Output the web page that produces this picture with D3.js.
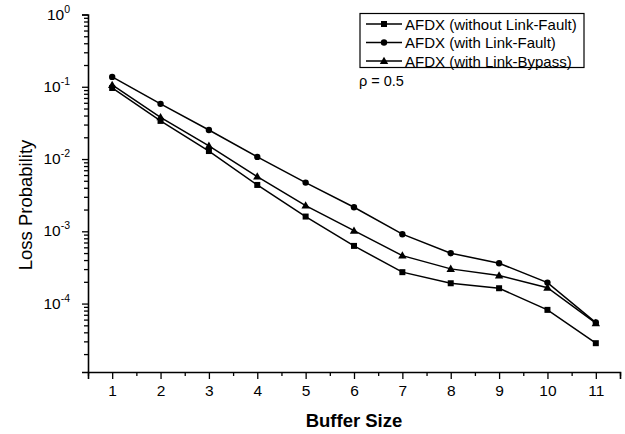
<!DOCTYPE html>
<html>
<head>
<meta charset="utf-8">
<script src="https://cdn.jsdelivr.net/npm/d3@7"></script>
<style>
  html, body { margin: 0; padding: 0; background: #fff; }
  svg { display: block; }
  text { font-family: Arial, "Liberation Sans", sans-serif; fill: #000; }
</style>
</head>
<body>
<svg id="chart" width="625" height="434"></svg>
<script>
// Buffer sizes on the x axis
const bufferSizes = [1, 2, 3, 4, 5, 6, 7, 8, 9, 10, 11];

// Loss probability for each configuration
const withoutFault = [0.0962, 0.0337, 0.0129, 0.00438, 0.0016, 0.000628, 0.000272, 0.000191, 0.000163, 0.0000818, 0.0000283];
const withFault    = [0.137, 0.058, 0.0252, 0.0107, 0.00472, 0.00215, 0.000912, 0.000498, 0.000362, 0.000195, 0.0000546];
const withBypass   = [0.106, 0.0378, 0.0152, 0.00571, 0.00227, 0.00102, 0.000461, 0.000302, 0.000244, 0.000166, 0.0000536];

const seriesNames = ["AFDX (without Link-Fault)", "AFDX (with Link-Fault)", "AFDX (with Link-Bypass)"];
const seriesMarkers = ["square", "circle", "triangle"];
const yTickExponents = [0, -1, -2, -3, -4];
const xTickLabels = ["1", "2", "3", "4", "5", "6", "7", "8", "9", "10", "11"];

const series = [withoutFault, withFault, withBypass].map((vals, i) => ({
  name: seriesNames[i],
  marker: seriesMarkers[i],
  points: vals.map((v, j) => ({ x: bufferSizes[j], y: v }))
}));

const svg = d3.select("#chart");

const x = d3.scaleLinear().domain([0.5, 11.5]).range([88, 620]);
const y = d3.scaleLog().domain([1.13e-5, 1]).range([372, 14.5]);

// Marker drawing helper
function drawMarker(sel, kind) {
  if (kind === "square") {
    sel.append("rect").attr("x", -3).attr("y", -3).attr("width", 6).attr("height", 6).attr("fill", "#000");
  } else if (kind === "circle") {
    sel.append("circle").attr("r", 3.2).attr("fill", "#000");
  } else {
    sel.append("path").attr("d", "M0,-4.3L4.2,3L-4.2,3Z").attr("fill", "#000");
  }
}

// Y axis: majors at decades, minors at 2..9 of each decade
const yMajors = yTickExponents.map(e => Math.pow(10, e));
const yMinors = [];
for (let e = -5; e < 0; e++) {
  for (let m = 2; m <= 9; m++) {
    const v = m * Math.pow(10, e);
    if (v >= y.domain()[0] && v <= 1) yMinors.push(v);
  }
}

svg.append("g").attr("transform", "translate(88,0)")
  .call(d3.axisLeft(y).tickValues(yMajors).tickSize(6).tickFormat(""));
svg.append("g").attr("transform", "translate(88,0)")
  .call(d3.axisLeft(y).tickValues(yMinors).tickSize(4).tickFormat(""))
  .select(".domain").remove();

// Decade labels with superscript exponents
const yLab = svg.append("g");
yTickExponents.forEach(e => {
  const t = yLab.append("text")
    .attr("x", 70).attr("y", y(Math.pow(10, e)) + 5)
    .attr("text-anchor", "end")
    .style("font-size", "15.5px");
  t.append("tspan").text("10");
  t.append("tspan").attr("dy", -7).style("font-size", "10.5px").text(String(e));
});

// X axis: majors at integers, minors at half steps
const xMinors = d3.range(0.5, 11.6, 1);
svg.append("g").attr("transform", "translate(0,372)")
  .call(d3.axisBottom(x).tickValues(bufferSizes).tickSize(7)
    .tickFormat((d, i) => xTickLabels[i]).tickPadding(6))
  .selectAll("text").style("font-size", "15.5px").style("font-family", "Arial, 'Liberation Sans', sans-serif");
svg.append("g").attr("transform", "translate(0,372)")
  .call(d3.axisBottom(x).tickValues(xMinors).tickSize(4).tickFormat(""))
  .select(".domain").remove();

svg.selectAll(".domain").attr("stroke", "#000").attr("stroke-width", 1.6);
svg.selectAll(".tick line").attr("stroke", "#000").attr("stroke-width", 1.3);

// Axis titles
svg.append("text")
  .attr("transform", "translate(32,205) rotate(-90)")
  .attr("text-anchor", "middle")
  .style("font-size", "18.5px")
  .text("Loss Probability");

svg.append("text")
  .attr("x", 354).attr("y", 427)
  .attr("text-anchor", "middle")
  .style("font-size", "18.5px").style("font-weight", "bold")
  .text("Buffer Size");

// Series lines and markers
const line = d3.line().x(d => x(d.x)).y(d => y(d.y));
series.forEach(s => {
  svg.append("path").datum(s.points)
    .attr("d", line).attr("fill", "none")
    .attr("stroke", "#000").attr("stroke-width", 1.5);
  s.points.forEach(p => {
    const g = svg.append("g").attr("transform", `translate(${x(p.x)},${y(p.y)})`);
    drawMarker(g, s.marker);
  });
});

// Legend
const legend = svg.append("g");
legend.append("rect")
  .attr("x", 360).attr("y", 13.5).attr("width", 224).attr("height", 54)
  .attr("fill", "#fff").attr("stroke", "#000").attr("stroke-width", 1.2);
series.forEach((s, i) => {
  const cy = 24 + i * 18.5;
  legend.append("line")
    .attr("x1", 366).attr("x2", 402).attr("y1", cy).attr("y2", cy)
    .attr("stroke", "#000").attr("stroke-width", 1.3);
  const g = legend.append("g").attr("transform", `translate(384,${cy})`);
  drawMarker(g, s.marker);
  legend.append("text")
    .attr("x", 405).attr("y", cy + 5.5)
    .style("font-size", "15px")
    .text(s.name);
});

svg.append("text")
  .attr("x", 359).attr("y", 86)
  .style("font-size", "14.5px")
  .text("ρ = 0.5");
</script>
</body>
</html>
